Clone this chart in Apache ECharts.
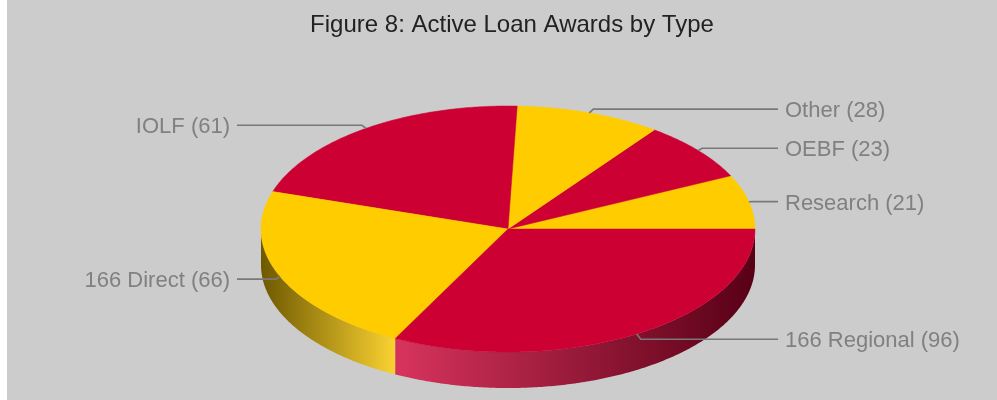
<!DOCTYPE html>
<html>
<head>
<meta charset="utf-8">
<script src="https://cdn.jsdelivr.net/npm/echarts@6/dist/echarts.min.js"></script>
<style>
  html, body { margin: 0; padding: 0; background: #ffffff; }
  #chart { width: 997px; height: 400px; }
</style>
</head>
<body>
<div id="chart"></div>
<script>
// Loan award counts by type, listed counter-clockwise from 3 o'clock
const categories = ['Research', 'OEBF', 'Other', 'IOLF', '166 Direct', '166 Regional'];
const awards = [21, 23, 28, 61, 66, 96];
const chartTitle = 'Figure 8: Active Loan Awards by Type';

// Alternating slice colours
const palette = ['#FFCC00', '#CC0033'];

// Pie geometry (tilted disc)
const CX = 508, CY = 229, RX = 247, RY = 123, DEPTH = 36;
const LABEL_RIGHT_X = 785, LABEL_LEFT_X = 230;

const total = awards.reduce((s, v) => s + v, 0);
const starts = [];
awards.reduce((acc, v, i) => { starts[i] = acc; return acc + v; }, 0);

function hexToRgb(h) {
  const n = parseInt(h.slice(1), 16);
  return [(n >> 16) & 255, (n >> 8) & 255, n & 255];
}
function rgb(c) { return 'rgb(' + c.map(v => Math.round(Math.max(0, Math.min(255, v)))).join(',') + ')'; }
function shade(hex, f) { return rgb(hexToRgb(hex).map(v => v * f)); }
function tint(hex, f) { return rgb(hexToRgb(hex).map(v => v + (255 - v) * f)); }

function sideFill(hex) {
  const x0 = CX - RX, x1 = CX + RX;
  const peak = (400 - x0) / (x1 - x0);
  return new echarts.graphic.LinearGradient(x0, 0, x1, 0, [
    { offset: 0, color: shade(hex, 0.43) },
    { offset: peak, color: tint(hex, 0.2) },
    { offset: 1, color: shade(hex, 0.43) }
  ], true);
}

function pt(t, dy) { return [CX + RX * Math.cos(t), CY - RY * Math.sin(t) + (dy || 0)]; }
function arc(t0, t1, dy) {
  const n = Math.max(2, Math.ceil((t1 - t0) / 0.01));
  const out = [];
  for (let k = 0; k <= n; k++) out.push(pt(t0 + (t1 - t0) * k / n, dy));
  return out;
}

function renderItem(params, api) {
  const i = params.dataIndex;
  const v = api.value(0);
  const a0 = starts[i] / total * Math.PI * 2;
  const a1 = (starts[i] + v) / total * Math.PI * 2;
  const color = palette[i % palette.length];
  const children = [];

  // front wall of the disc
  const s0 = Math.max(a0, Math.PI), s1 = Math.min(a1, Math.PI * 2);
  if (s1 > s0) {
    const pts = arc(s0, s1, 0).concat(arc(s0, s1, DEPTH).reverse());
    children.push({ type: 'polygon', z2: 1, shape: { points: pts }, style: { fill: sideFill(color) } });
  }

  // top face
  children.push({
    type: 'polygon', z2: 2,
    shape: { points: [[CX, CY]].concat(arc(a0, a1, 0)) },
    style: { fill: color, stroke: color, lineWidth: 0.5 }
  });

  // leader line and label
  const mid = (a0 + a1) / 2;
  const dir = Math.cos(mid) >= 0 ? 1 : -1;
  const anchor = pt(mid, 0);
  const ly = anchor[1] - 5 * Math.sin(mid) + 1;
  const endX = dir > 0 ? LABEL_RIGHT_X - 7 : LABEL_LEFT_X + 7;
  children.push({
    type: 'polyline', z2: 3,
    shape: { points: [anchor, [anchor[0] + 4 * dir, ly], [endX, ly]] },
    style: { stroke: '#787878', lineWidth: 1.6, fill: null }
  });
  children.push({
    type: 'text', z2: 3,
    style: {
      text: categories[i] + ' (' + v + ')',
      x: dir > 0 ? LABEL_RIGHT_X : LABEL_LEFT_X,
      y: ly + 2,
      align: dir > 0 ? 'left' : 'right',
      verticalAlign: 'middle',
      fill: '#808080',
      fontSize: 22,
      fontFamily: 'Liberation Sans, Arial, sans-serif'
    }
  });

  return { type: 'group', children: children };
}

const chart = echarts.init(document.getElementById('chart'), null, { renderer: 'canvas' });
chart.setOption({
  animation: false,
  backgroundColor: '#cccccc',
  title: {
    text: chartTitle,
    left: 507, top: 8,
    textAlign: 'center',
    textStyle: { fontSize: 24, fontWeight: 'normal', color: '#222222', fontFamily: 'Liberation Sans, Arial, sans-serif' }
  },
  graphic: [
    { type: 'rect', left: 0, top: 0, shape: { width: 7, height: 400 }, style: { fill: '#ffffff' } }
  ],
  series: [{
    type: 'custom',
    coordinateSystem: 'none',
    silent: true,
    renderItem: renderItem,
    data: awards.map((v, i) => ({ name: categories[i], value: [v] }))
  }]
});
</script>
</body>
</html>
